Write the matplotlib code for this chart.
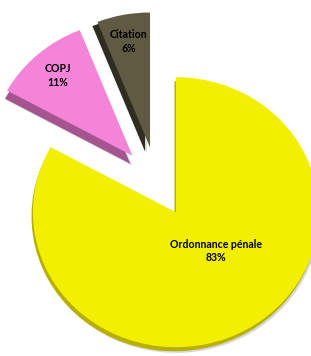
import numpy as np
import matplotlib.pyplot as plt
from matplotlib.patches import Wedge

# data
categories = ['Ordonnance pénale', 'COPJ', 'Citation']
shares = [83, 11, 6]

colors = ['#f2f000', '#f484d8', '#5f5a42']
side_colors = ['#b7b000', '#a4558f', '#2f2c20']
# side offset (dx, dy) in data units, fake 3D depth
side_offsets = [(-0.01, -0.03), (-0.015, -0.06), (-0.035, -0.03)]

plt.rcParams['font.family'] = ['Lato', 'DejaVu Sans']

fig = plt.figure(figsize=(3.11, 3.56), dpi=100)
ax = fig.add_axes([0, 0, 1, 1])

wedges, _ = ax.pie(shares, colors=colors, startangle=90, counterclock=False,
                   explode=[0.26, 0.26, 0.26], radius=1.0, frame=False)
# pie is a bit squashed vertically (tilted look)
ax.set_aspect('auto')
ax.set_xlim(-1.098, 1.077)
ax.set_ylim(-1.289, 1.348)
ax.axis('off')

for w, sc, (dx, dy) in zip(wedges, side_colors, side_offsets):
    w.set_zorder(3)
    c = w.center
    # soft grey shadow
    sh = Wedge((c[0] + dx + 0.012, c[1] + dy - 0.012), w.r, w.theta1, w.theta2,
               facecolor='#bdbdbd', edgecolor='none', alpha=0.6, zorder=1)
    ax.add_patch(sh)
    side = Wedge((c[0] + dx, c[1] + dy), w.r, w.theta1, w.theta2,
                 facecolor=sc, edgecolor='none', zorder=2)
    ax.add_patch(side)

# labels
label_pos = [(0.40, -46), (0.79, None), (0.80, None)]
for w, cat, s, (r, ang) in zip(wedges, categories, shares, label_pos):
    if ang is None:
        ang = (w.theta1 + w.theta2) / 2
    c = w.center
    x = c[0] + r * np.cos(np.radians(ang))
    y = c[1] + r * np.sin(np.radians(ang))
    ax.text(x, y, f'{cat}\n{s}%', ha='center', va='center', fontsize=7.6,
            fontweight='bold', color='black', linespacing=1.3, zorder=5)

fig.savefig('out.png', dpi=100)
